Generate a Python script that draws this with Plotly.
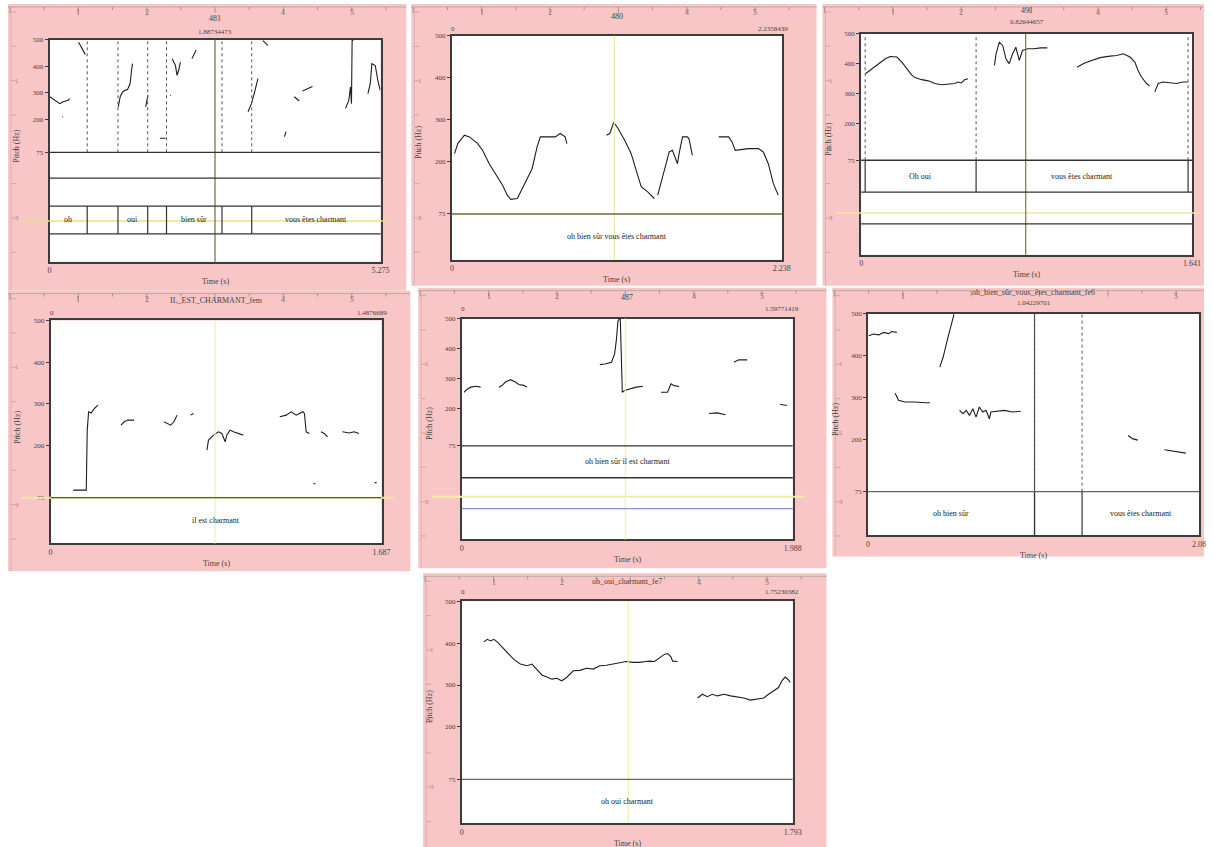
import plotly.graph_objects as go

W, H = 1213, 847
N = None  # gap between voiced stretches

# ---------------- pitch tracks: time (s) / F0 (Hz) ----------------
P1_TIME = [0.005, 0.084, 0.163, 0.216, 0.295, 0.321, N,
           0.200, 0.210, N,
           0.463, 0.505, 0.548, 0.569, N,
           1.095, 1.126, 1.163, 1.200, 1.243, 1.284, 1.306, 1.322, N,
           1.532, 1.548, 1.568, N,
           1.758, 1.848, N,
           1.922, 1.932, N,
           1.953, 2.006, 2.032, 2.058, 2.085, N,
           2.269, 2.306, 2.337, N,
           3.163, 3.217, 3.269, 3.296, 3.321, N,
           3.400, 3.454, 3.479, N,
           3.743, 3.770, N,
           3.901, 3.953, 3.980, N,
           4.032, 4.111, 4.190, N,
           4.717, 4.770, 4.796, 4.812, 4.822, 4.848, N,
           5.074, 5.112, 5.137, 5.191, 5.232, 5.270]
P1_PITCH = [285, 272, 259, 266, 272, 278, N,
            210, 208, N,
            491, 473, 450, 445, N,
            247, 285, 303, 309, 312, 335, 385, 410, N,
            247, 272, 291, N,
            128, 128, N,
            291, 289, N,
            429, 403, 366, 385, 416, N,
            429, 447, 462, N,
            228, 259, 303, 328, 353, N,
            497, 485, 479, N,
            134, 153, N,
            285, 274, 269, N,
            307, 316, 324, N,
            241, 272, 322, 259, 497, 500, N,
            297, 335, 410, 403, 347, 309]

P2_TIME = [0.018, 0.040, 0.085, 0.119, 0.175, 0.208, 0.253, 0.298, 0.343, 0.376,
           0.399, 0.444, 0.488, 0.544, 0.578, 0.600, 0.645, 0.701, 0.735, 0.768, 0.780, N,
           1.048, 1.071, 1.098, 1.127, 1.172, 1.216, 1.250, 1.284, 1.328, 1.373, N,
           1.396, 1.429, 1.474, 1.496, 1.519, 1.530, 1.541, 1.564, 1.597, 1.608, 1.631, N,
           1.810, 1.877, 1.900, 1.922, 2.012, 2.079, 2.112, 2.146, 2.180, 2.213]
P2_PITCH = [219, 243, 263, 259, 243, 227, 195, 171, 144, 120,
            110, 112, 144, 183, 235, 259, 259, 259, 267, 259, 243, N,
            263, 267, 294, 279, 251, 219, 179, 140, 128, 112, N,
            120, 163, 223, 227, 203, 195, 219, 259, 259, 255, 215, N,
            259, 259, 247, 227, 231, 231, 223, 195, 148, 120]

P3_TIME = [0.021, 0.054, 0.087, 0.120, 0.144, 0.177, 0.202, 0.226, 0.251, 0.267,
           0.300, 0.333, 0.366, 0.398, 0.431, 0.464, 0.480, 0.497, 0.513, 0.530, N,
           0.661, 0.669, 0.685, 0.702, 0.718, 0.734, 0.751, 0.767, 0.784, 0.800,
           0.825, 0.857, 0.890, 0.923, N,
           1.070, 1.103, 1.136, 1.185, 1.234, 1.267, 1.300, 1.333, 1.357, 1.373,
           1.390, 1.415, 1.431, N,
           1.456, 1.473, 1.497, 1.530, 1.563, 1.596, 1.620]
P3_PITCH = [366, 383, 400, 416, 424, 422, 405, 383, 361, 353,
            346, 342, 333, 329, 330, 333, 338, 335, 346, 349, N,
            394, 433, 472, 461, 416, 400, 433, 455, 411, 444,
            450, 450, 453, 453, N,
            388, 400, 409, 420, 425, 427, 433, 422, 405, 377,
            355, 333, 324, N,
            305, 333, 338, 335, 333, 338, 338]

P4_TIME = [0.115, 0.182, 0.187, 0.194, 0.207, 0.216, 0.224, 0.241, N,
           0.359, 0.376, 0.393, 0.426, N,
           0.578, 0.595, 0.612, 0.629, 0.637, 0.645, N,
           0.713, 0.729, N,
           0.797, 0.805, 0.831, 0.856, 0.873, 0.890, 0.898, 0.915, 0.932, 0.957, 0.982, N,
           1.168, 1.201, 1.227, 1.252, 1.269, 1.286, 1.294, 1.303, 1.319, N,
           1.340, 1.350, N,
           1.378, 1.395, 1.412, N,
           1.488, 1.522, 1.547, 1.572, N,
           1.652, 1.662]
P4_PITCH = [93, 93, 237, 281, 278, 285, 289, 297, N,
            249, 257, 261, 261, N,
            257, 253, 249, 257, 265, 273, N,
            273, 277, N,
            189, 213, 225, 233, 229, 209, 225, 237, 233, 229, 225, N,
            269, 273, 281, 273, 277, 281, 277, 233, 229, N,
            109, 108, N,
            233, 229, 221, N,
            233, 230, 233, 229, N,
            111, 111]

P5_TIME = [0.014, 0.034, 0.054, 0.083, 0.113, N,
           0.223, 0.243, 0.262, 0.292, 0.322, 0.342, 0.372, 0.392, N,
           0.829, 0.859, 0.899, 0.918, 0.928, 0.938, 0.948, 0.952, 0.958, 0.964,
           0.978, 1.008, 1.048, 1.088, N,
           1.197, 1.236, 1.256, 1.276, 1.306, N,
           1.485, 1.535, 1.584, N,
           1.634, 1.664, 1.714, N,
           1.912, 1.952]
P5_PITCH = [254, 265, 271, 274, 271, N,
            271, 277, 288, 296, 288, 280, 277, 271, N,
            346, 348, 354, 382, 426, 492, 500, 498, 382, 254,
            260, 265, 271, 274, N,
            254, 254, 282, 276, 273, N,
            183, 185, 179, N,
            354, 362, 362, N,
            214, 210]

P6_TIME = [0.004, 0.035, 0.067, 0.098, 0.129, 0.150, 0.181, N,
           0.171, 0.192, 0.233, 0.296, 0.358, 0.390, N,
           0.452, 0.473, 0.504, 0.525, 0.542, N,
           0.577, 0.598, 0.619, 0.640, 0.661, 0.681, 0.702, 0.723, 0.744, 0.765,
           0.775, 0.806, 0.859, 0.911, 0.963, N,
           1.640, 1.671, 1.702, N,
           1.869, 1.921, 1.963, 2.005]
P6_PITCH = [447, 451, 449, 455, 452, 457, 455, N,
            310, 293, 289, 289, 287, 287, N,
            372, 395, 443, 475, 498, N,
            269, 261, 269, 257, 273, 253, 277, 265, 269, 249,
            265, 267, 269, 265, 267, N,
            209, 201, 198, N,
            175, 172, 170, 167]

P7_TIME = [0.120, 0.138, 0.156, 0.174, 0.192, 0.219, 0.246, 0.282, 0.317, 0.353,
           0.380, 0.407, 0.434, 0.461, 0.488, 0.515, 0.541, 0.568, 0.604, 0.640,
           0.676, 0.712, 0.748, 0.784, 0.819, 0.855, 0.891, 0.927, 0.963, 0.999,
           1.017, 1.044, 1.070, 1.097, 1.115, 1.133, 1.142, 1.169, N,
           1.277, 1.304, 1.330, 1.357, 1.384, 1.420, 1.456, 1.492, 1.528, 1.563,
           1.599, 1.635, 1.662, 1.689, 1.716, 1.734, 1.752, 1.770, 1.779]
P7_PITCH = [403, 409, 405, 409, 403, 391, 377, 361, 350, 346,
            350, 338, 324, 319, 314, 316, 310, 318, 334, 335,
            340, 338, 346, 347, 350, 354, 356, 354, 354, 356,
            357, 356, 365, 373, 375, 367, 357, 356, N,
            269, 278, 272, 278, 274, 278, 274, 272, 269, 264,
            266, 269, 278, 286, 294, 310, 319, 312, 306]

# ---------------- text tiers: (start, end, label) ----------------
TIER1 = [(0.0, 0.600, "oh"), (0.600, 1.090, ""), (1.090, 1.564, "oui"),
         (1.564, 1.864, ""), (1.864, 2.748, "bien sûr"), (2.748, 3.222, ""),
         (3.222, 5.275, "vous êtes charmant")]
TIER2 = [(0.0, 2.238, "oh bien sûr vous êtes charmant")]
TIER3 = [(0.0, 0.020, ""), (0.020, 0.570, "Oh oui"),
         (0.570, 1.621, "vous êtes charmant"), (1.621, 1.641, "")]
TIER4 = [(0.0, 1.687, "il est charmant")]
TIER5 = [(0.0, 1.988, "oh bien sûr il est charmant")]
TIER6 = [(0.0, 1.050, "oh bien sûr"), (1.050, 1.350, ""),
         (1.350, 2.088, "vous êtes charmant")]
TIER7 = [(0.0, 1.793, "oh oui charmant")]

DURATIONS = [5.275, 2.238, 1.641, 1.687, 1.988, 2.088, 1.793]
DURATION_TEXT = ["5.275", "2.238", "1.641", "1.687", "1.988", "2.08", "1.793"]
TITLES = ["481", "480", "491", "IL_EST_CHARMANT_fem", "487",
          "oh_bien_sûr_vous_êtes_charmant_fe6", "oh_oui_charmant_fe7"]
SUBTITLES = ["1.88734473", "2.2358439", "0.82644657", "1.4876689", "1.59771419",
             "1.04229701", "1.75230382"]
CURSOR_TIMES = [2.637, 1.102, 0.816, 0.838, 0.982, 1.050, 0.902]
PITCH_TICKS = [75, 200, 300, 400, 500]

TRACKS = [(P1_TIME, P1_PITCH), (P2_TIME, P2_PITCH), (P3_TIME, P3_PITCH),
          (P4_TIME, P4_PITCH), (P5_TIME, P5_PITCH), (P6_TIME, P6_PITCH),
          (P7_TIME, P7_PITCH)]
TIERS = [TIER1, TIER2, TIER3, TIER4, TIER5, TIER6, TIER7]

# ---------------- panel layout (pixels) ----------------
# pink: panel background; box: l, t, r, b of the drawing frame; y75: floor of pitch area
# tier: (top, bottom) of the labelled interval tier; extra: other horizontal rules
LAYOUT = [
    dict(pink=(6, 0, 408, 288), box=(48, 36, 382, 259), y75=149, tier=(203, 231),
         extra=[(175, "#333"), (203, "#333"), (231, "#333")], title_style="center",
         title_y=(15, 28), cursor_col="#6f6f3a", hline=(218, "#e8e27a"),
         dotted=True, y75_col="#333"),
    dict(pink=(413, 0, 822, 283), box=(454, 32, 787, 257), y75=211, tier=(211, 257),
         extra=[], title_style="corner", title_y=(13, 25), cursor_col="#efeaa0",
         hline=None, dotted=False, y75_col="#6e6a38"),
    dict(pink=(828, 0, 1213, 283), box=(867, 30, 1201, 252), y75=157, tier=(157, 189),
         extra=[(189, "#333"), (221, "#333")], title_style="center",
         title_y=(7, 18), cursor_col="#78763e", hline=(210, "#eee9a0"),
         dotted=True, y75_col="#333"),
    dict(pink=(6, 288, 412, 570), box=(49, 318, 383, 542), y75=496, tier=(496, 542),
         extra=[], title_style="corner", title_y=(298, 310), cursor_col="#f1edb8",
         hline=(496, "#eee9a0"), dotted=False, y75_col="#555"),
    dict(pink=(420, 285, 832, 567), box=(464, 316, 798, 538), y75=444, tier=(444, 476),
         extra=[(476, "#333"), (507, "#8e8ec8")], title_style="corner",
         title_y=(295, 306), cursor_col="#f1edb8", hline=(495, "#f1ecae"),
         dotted=False, y75_col="#333"),
    dict(pink=(838, 285, 1213, 555), box=(874, 311, 1208, 534), y75=490, tier=(490, 534),
         extra=[], title_style="center", title_y=(290, 300), cursor_col="#444",
         hline=None, dotted=True, y75_col="#6e6a38"),
    dict(pink=(425, 572, 832, 847), box=(464, 600, 798, 823), y75=779, tier=(779, 823),
         extra=[], title_style="corner", title_y=(580, 591), cursor_col="#f1edb8",
         hline=None, dotted=False, y75_col="#6e6a38"),
]

PINK = "#f8c6c6"
FRAME = "#3c3c3c"
FONT = "Liberation Serif"
TXT = "#444"


def px(x):
    return x / W


def py(y):
    return 1 - y / H


def note(x, y, text, size=8, color=TXT, xanchor="center", xref="paper", angle=0):
    return dict(x=x, y=y, xref=xref, yref="paper", text=text, showarrow=False,
                xanchor=xanchor, yanchor="middle", textangle=angle,
                font=dict(family=FONT, size=size, color=color))


fig = go.Figure()
shapes, annos = [], []
layout_axes = {}

for i, (geo, (times, pitch), tier) in enumerate(zip(LAYOUT, TRACKS, TIERS)):
    n = i + 1
    xa = "x" if n == 1 else f"x{n}"
    ya = "y" if n == 1 else f"y{n}"
    xkey = "xaxis" if n == 1 else f"xaxis{n}"
    ykey = "yaxis" if n == 1 else f"yaxis{n}"
    pl, pt, pr, pb = geo["pink"]
    l, t, r, b = geo["box"]
    y75 = geo["y75"]
    dur = DURATIONS[i]
    cx = (l + r) / 2
    title_half = len(TITLES[i]) * 2.4 + 8

    # panel background and rulers
    shapes.append(dict(type="rect", xref="paper", yref="paper", x0=px(pl), x1=px(pr),
                       y0=py(pb), y1=py(pt), fillcolor=PINK, line=dict(width=0),
                       layer="below"))
    shapes.append(dict(type="line", xref="paper", yref="paper", x0=px(pl), x1=px(pr),
                       y0=py(pt + 3), y1=py(pt + 3), line=dict(color="#b9a9a9", width=1)))
    shapes.append(dict(type="line", xref="paper", yref="paper", x0=px(pl + 3), x1=px(pl + 3),
                       y0=py(pb), y1=py(pt + 3), line=dict(color="#d6b3b3", width=1)))
    k = 0
    xr = pl + 2
    while xr < pr - 2:
        long_tick = (k % 2 == 0)
        shapes.append(dict(type="line", xref="paper", yref="paper", x0=px(xr), x1=px(xr),
                           y0=py(pt + 3), y1=py(pt + (9 if long_tick else 6)),
                           line=dict(color="#b08f8f", width=1)))
        k += 1
        xr += 34.5
    for j in range(1, 6):
        xr = pl + 2 + 69 * j
        if xr < pr - 8 and abs(xr - cx) > title_half:
            annos.append(note(px(xr), py(pt + 9), str(j), size=8, color="#8c6e6e"))
    yr = pt + 8
    while yr < pb - 4:
        shapes.append(dict(type="line", xref="paper", yref="paper", x0=px(pl + 3),
                           x1=px(pl + 8), y0=py(yr), y1=py(yr),
                           line=dict(color="#cfa5a5", width=1)))
        yr += 34.5
    for j in range(1, 4):
        yr = pt + 8 + 69 * j
        if yr < pb - 10:
            annos.append(note(px(pl + 9), py(yr), str(j), size=7, color="#c07a7a"))

    # y scale: 75 Hz on the tier rule, 500 Hz at the top of the frame
    per_hz = (y75 - t) / 425.0
    ymin = 75 - (b - y75) / per_hz

    layout_axes[xkey] = dict(
        domain=[px(l), px(r)], anchor=ya, range=[0, dur],
        showgrid=False, zeroline=False, showline=True, mirror=True,
        linecolor=FRAME, linewidth=2, ticks="", tickvals=[0, dur],
        ticktext=["0", DURATION_TEXT[i]], tickfont=dict(family=FONT, size=8, color=TXT),
    )
    layout_axes[ykey] = dict(
        domain=[py(b), py(t)], anchor=xa, range=[ymin, 500],
        showgrid=False, zeroline=False, showline=True, mirror=True,
        linecolor=FRAME, linewidth=2, ticks="outside", ticklen=3, tickcolor=FRAME,
        tickvals=PITCH_TICKS, ticktext=[str(v) for v in PITCH_TICKS],
        tickfont=dict(family=FONT, size=7, color=TXT),
    )

    # white drawing area
    shapes.append(dict(type="rect", xref="paper", yref="paper", x0=px(l), x1=px(r),
                       y0=py(b), y1=py(t), fillcolor="white", line=dict(width=0),
                       layer="below"))

    # horizontal cursor (yellow)
    if geo["hline"]:
        hy, hc = geo["hline"]
        shapes.append(dict(type="line", xref="paper", yref="paper", x0=px(pl + 14),
                           x1=px(min(pr - 4, r + 12)), y0=py(hy), y1=py(hy),
                           line=dict(color=hc, width=2 if n in (4, 5) else 1.5)))

    # vertical cursor
    shapes.append(dict(type="line", xref=xa, yref="paper", x0=CURSOR_TIMES[i],
                       x1=CURSOR_TIMES[i], y0=py(b), y1=py(t),
                       line=dict(color=geo["cursor_col"], width=1.2)))

    # rule under the pitch area and additional tier rules
    shapes.append(dict(type="line", xref=xa, yref=ya, x0=0, x1=dur, y0=75, y1=75,
                       line=dict(color=geo["y75_col"], width=1.3)))
    for ey, ec in geo["extra"]:
        shapes.append(dict(type="line", xref="paper", yref="paper", x0=px(l), x1=px(r),
                           y0=py(ey), y1=py(ey), line=dict(color=ec, width=1.3)))

    # interval tier: boundaries and labels
    t0, t1 = geo["tier"]
    for s, e, lab in tier:
        if s > 0:
            shapes.append(dict(type="line", xref=xa, yref="paper", x0=s, x1=s,
                               y0=py(t1), y1=py(t0), line=dict(color="#333", width=1.2)))
            if geo["dotted"]:
                shapes.append(dict(type="line", xref=xa, yref=ya, x0=s, x1=s,
                                   y0=75, y1=500,
                                   line=dict(color="#555", width=1, dash="dot")))
        if lab:
            annos.append(note((s + e) / 2, py((t0 + t1) / 2), lab, size=8,
                              color="#222", xref=xa))

    # pitch contour
    fig.add_trace(go.Scatter(x=times, y=pitch, mode="lines", xaxis=xa, yaxis=ya,
                             line=dict(color="#1e1e1e", width=1.1), connectgaps=False,
                             showlegend=False, hoverinfo="skip"))

    # titles
    ty1, ty2 = geo["title_y"]
    annos.append(note(px(cx), py(ty1), TITLES[i], size=8))
    if geo["title_style"] == "center":
        annos.append(note(px(cx), py(ty2), SUBTITLES[i], size=7))
    else:
        annos.append(note(px(l + 1), py(ty2), "0", size=7))
        annos.append(note(px(r + 8), py(ty2), SUBTITLES[i], size=7, xanchor="right"))

    # axis names
    annos.append(note(px(cx), py(b + 20), "Time (s)", size=8))
    annos.append(note(px(l - 33), py((t + b) / 2 - 5), "Pitch (Hz)", size=8, angle=-90))

fig.update_layout(
    width=W, height=H, margin=dict(l=0, r=0, t=0, b=0),
    paper_bgcolor="white", plot_bgcolor="rgba(0,0,0,0)",
    shapes=shapes, annotations=annos, showlegend=False,
    **layout_axes,
)

fig.write_html("out.html")
